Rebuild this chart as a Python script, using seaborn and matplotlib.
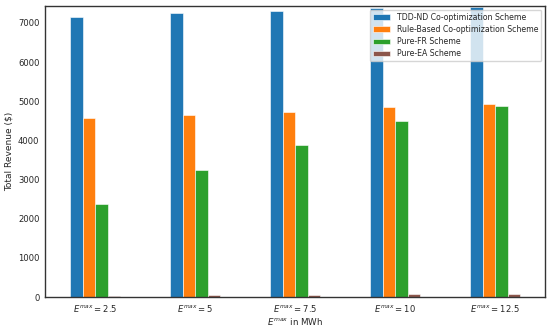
import numpy as np
import pandas as pd
import matplotlib
matplotlib.use("Agg")
import matplotlib.pyplot as plt
import seaborn as sns

categories = [r"$E^{max} = 2.5$", r"$E^{max} = 5$", r"$E^{max} = 7.5$",
              r"$E^{max} = 10$", r"$E^{max} = 12.5$"]
schemes = ["TDD-ND Co-optimization Scheme", "Rule-Based Co-optimization Scheme",
           "Pure-FR Scheme", "Pure-EA Scheme"]
tdd_nd = [7160, 7260, 7310, 7370, 7420]
rule_based = [4580, 4640, 4720, 4850, 4930]
pure_fr = [2380, 3240, 3880, 4500, 4890]
pure_ea = [30, 40, 60, 65, 75]

df = pd.DataFrame({
    "case": categories * 4,
    "scheme": np.repeat(schemes, len(categories)),
    "revenue": tdd_nd + rule_based + pure_fr + pure_ea,
})

sns.set_theme(style="white")
plt.rcParams["font.family"] = ["DejaVu Sans"]

fig = plt.figure(figsize=(5.5, 3.28), dpi=100)
ax = fig.add_axes([0.082, 0.0945, 0.909, 0.888])

palette = ["#1f77b4", "#ff7f0e", "#2ca02c", "#8c564b"]
sns.barplot(data=df, x="case", y="revenue", hue="scheme", palette=palette,
            width=0.5, edgecolor="white", linewidth=0.4, saturation=1, ax=ax)

ax.set_ylim(0, 7440)
ax.set_xlim(-0.5, 4.5)
ax.set_ylabel("Total Revenue (\\$)", fontsize=6.5, labelpad=3)
ax.set_xlabel(r"$E^{max}$ in MWh", fontsize=6.3, labelpad=2)
ax.tick_params(axis="both", labelsize=6.1, length=0, pad=4)
for s in ax.spines.values():
    s.set_color("#333333")
    s.set_linewidth(1.0)

ax.legend(loc="upper right", fontsize=5.6, frameon=True, framealpha=0.8,
          handlelength=2.2, borderpad=0.4, labelspacing=0.4, title=None)

fig.savefig("out.png", dpi=100)
